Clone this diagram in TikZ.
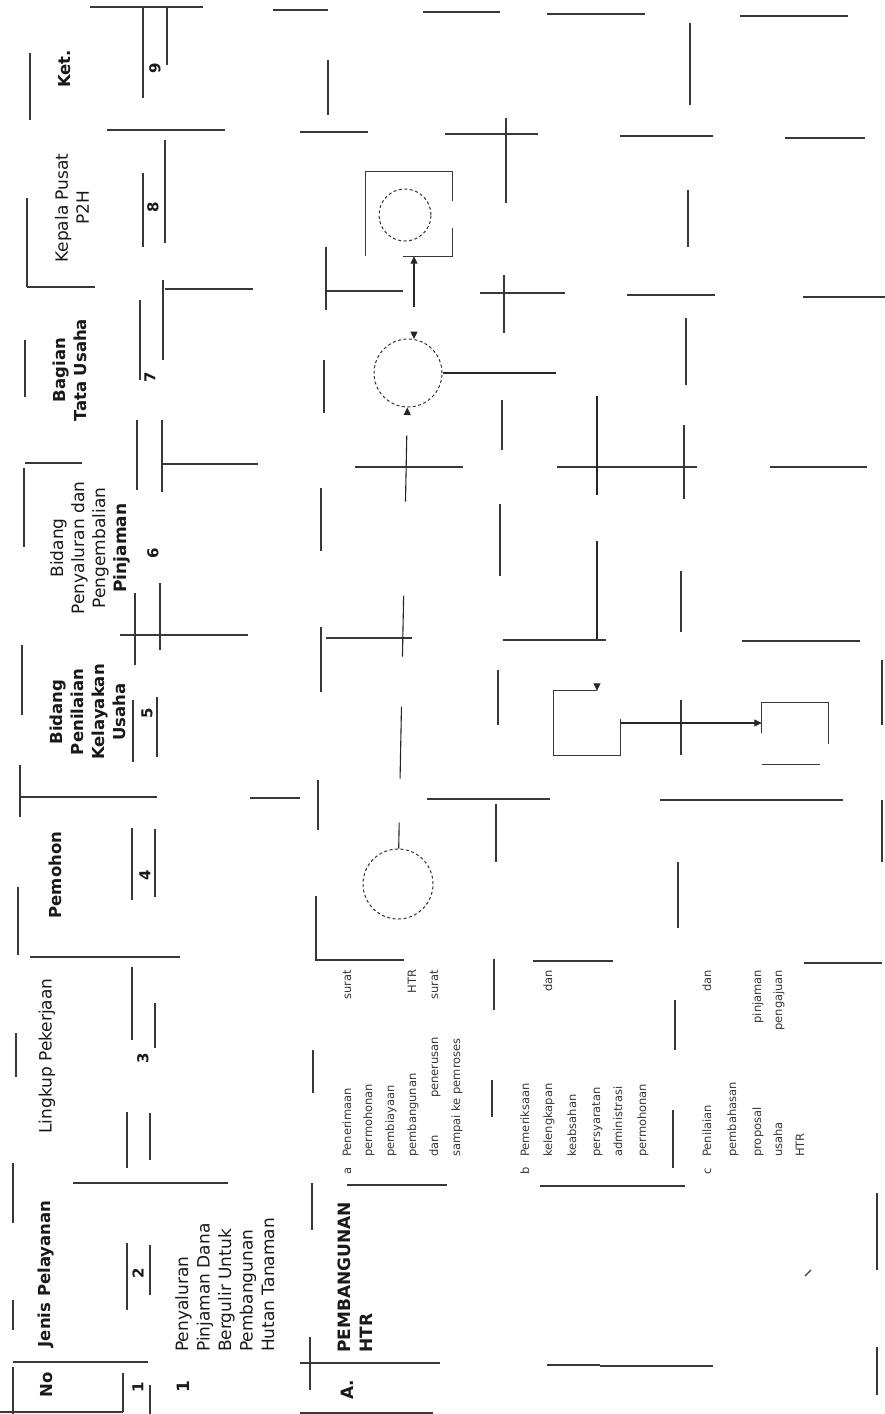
\documentclass[tikz,border=0pt]{standalone}
\usepackage{fontspec}
\setmainfont{DejaVu Sans}
\usetikzlibrary{arrows.meta,calc}
\begin{document}
\begin{tikzpicture}[x=1pt,y=-1pt,
  ln/.style={line width=1.1pt, draw=black!78},
  circ/.style={circle, draw=black!80, line width=1pt, dash pattern=on 3pt off 2.5pt, inner sep=0pt},
  boxshape/.style={rectangle, inner sep=0pt},
  conn/.style={line width=1.1pt, draw=black!85, -{Triangle[length=7.5pt,width=7pt]}},
  hd/.style={rotate=90, inner sep=0pt, font=\fontsize{16.5}{21}\selectfont\bfseries, text=black!90},
  hdr/.style={rotate=90, inner sep=0pt, font=\fontsize{17}{21}\selectfont, text=black!90},
  num/.style={rotate=90, inner sep=0pt, font=\fontsize{15}{18}\selectfont\bfseries, text=black!90},
  big/.style={rotate=90, inner sep=0pt, font=\fontsize{17}{21.5}\selectfont, align=left, text=black!90},
  bigb/.style={rotate=90, inner sep=0pt, font=\fontsize{17}{22}\selectfont\bfseries, align=left, text=black!90},
  body/.style={rotate=90, inner sep=0pt, anchor=base west, font=\fontsize{11.5}{13}\selectfont, text=black!78},
]
\useasboundingbox (0,0) rectangle (885,1414);
\fill[white] (0,0) rectangle (885,1414);

% ---- broken table rules (horizontal fragments) ----
\foreach \y/\a/\b in {7/90/203, 10/273/328, 12/423/500, 14/547/645, 16/740/848,
  130/107/225, 132/300/368, 134/445/538, 136/620/713, 138/785/865,
  287/27/95, 289/165/253, 291/326/403, 293/480/565, 295/627/715, 297/803/885,
  463/25/82, 464/162/258, 467/355/463, 467/557/697, 467/770/867,
  635/120/248, 638/326/412, 640/503/606, 641/742/860,
  797/20/157, 798/250/300, 799/427/550, 800/660/843,
  957/30/180, 960/315/404, 961/533/613, 963/804/882,
  1183/73/228, 1185/347/447, 1186/540/685,
  1362/13/148, 1363/300/440, 1365/547/600, 1366/600/713,
  1412/0/123, 1413/300/433}
  \draw[ln] (\a,\y) -- (\b,\y);

% ---- broken table rules (vertical fragments) ----
\foreach \x/\a/\b in {30/53/120, 27/198/287, 25/340/397, 24/468/547, 22/645/715,
  20/765/817, 18/887/955, 16/1033/1077, 13/1163/1223, 13/1300/1330, 13/1367/1414,
  143/7/98, 143/173/247, 140/300/380, 137/420/490, 135/593/665, 133/700/762,
  132/828/900, 132/967/1040, 127/1112/1168, 127/1243/1310, 123/1373/1412,
  167/7/65, 165/140/243, 163/280/360, 162/420/492, 160/583/650, 157/697/757,
  155/829/897, 155/1003/1048, 150/1113/1160, 150/1245/1295, 150/1385/1414,
  328/60/115, 326/247/310, 324/360/413, 321/488/551, 321/627/692, 318/780/830,
  316/896/960, 313/1050/1093, 312/1183/1230, 310/1337/1390,
  506/118/203, 504/275/333, 502/400/450, 500/504/576, 498/670/725, 496/804/862,
  494/959/1010, 492/1080/1117,
  690/23/105, 688/190/247, 686/318/385, 684/425/499, 681/571/632, 681/700/755,
  678/862/928, 675/1000/1050, 673/1110/1168,
  882/660/725, 882/800/862, 877/1193/1270, 877/1347/1395}
  \draw[ln] (\x,\a) -- (\x,\b);

\draw[ln] (805,1276) -- (811,1270);

% ---- header ----
\node[hd] (hno) at (47,1385) {No};
\node[hd] (hjenis) at (46,1274) {Jenis Pelayanan};
\node[hdr] (hlingkup) at (47,1056) {Lingkup Pekerjaan};
\node[hd] (hpem) at (55,875) {Pemohon};
\node[hd, align=center] (hpen) at (88,712) {Bidang\\Penilaian\\Kelayakan\\Usaha};
\node[hdr, align=center] (hsal) at (90,548) {Bidang\\Penyaluran dan\\Pengembalian\\\textbf{Pinjaman}};
\node[hd, align=center] (htu) at (70,370) {Bagian\\Tata Usaha};
\node[hdr, align=center] (hkp) at (72,208) {Kepala Pusat\\P2H};
\node[hd] (hket) at (65,69) {Ket.};

% ---- column numbers ----
\node[num] (n1) at (138,1387) {1};
\node[num] (n2) at (138,1273) {2};
\node[num] (n3) at (143,1058) {3};
\node[num] (n4) at (145,875) {4};
\node[num] (n5) at (147,713) {5};
\node[num] (n6) at (153,553) {6};
\node[num] (n7) at (150,377) {7};
\node[num] (n8) at (153,207) {8};
\node[num] (n9) at (155,68) {9};

% ---- row 1 ----
\node[num, font=\fontsize{17}{20}\selectfont\bfseries] (r1) at (183,1387) {1};
\node[big, anchor=north west] (jenis1) at (175,1352) {Penyaluran\\Pinjaman Dana\\Bergulir Untuk\\Pembangunan\\Hutan Tanaman};

% ---- row A ----
\node[bigb] (rA) at (347,1390) {A.};
\node[bigb, anchor=north west] (jenisA) at (338,1353) {PEMBANGUNAN\\HTR};

% ---- lingkup a ----
\node[body] (ka) at (351,1175) {a};
\node[body] (a1) at (351,1157) {\makebox[187pt]{Penerimaan\hfill surat}};
\node[body] (a2) at (372,1157) {permohonan};
\node[body] (a3) at (394,1157) {pembiayaan};
\node[body] (a4) at (416,1157) {\makebox[187pt]{pembangunan\hfill HTR}};
\node[body] (a5) at (438,1157) {\makebox[187pt]{dan\hfill penerusan\hfill surat}};
\node[body] (a6) at (460,1157) {sampai ke pemroses};

% ---- lingkup b ----
\node[body] (kb) at (529,1175) {b};
\node[body] (b1) at (529,1157) {Pemeriksaan};
\node[body] (b2) at (552,1157) {\makebox[187pt]{kelengkapan\hfill dan}};
\node[body] (b3) at (576,1157) {keabsahan};
\node[body] (b4) at (600,1157) {persyaratan};
\node[body] (b5) at (622,1157) {administrasi};
\node[body] (b6) at (646,1157) {permohonan};

% ---- lingkup c ----
\node[body] (kc) at (711,1175) {c};
\node[body] (c1) at (711,1157) {\makebox[187pt]{Penilaian\hfill dan}};
\node[body] (c2) at (736,1157) {pembahasan};
\node[body] (c3) at (761,1157) {\makebox[187pt]{proposal\hfill pinjaman}};
\node[body] (c4) at (782,1157) {\makebox[187pt]{usaha\hfill pengajuan}};
\node[body] (c5) at (804,1157) {HTR};

% ---- flow symbols ----
\node[circ, minimum size=70pt] (pem) at (398,884) {};
\node[circ, minimum size=68pt] (tu) at (408,373) {};
\node[boxshape, minimum width=86pt, minimum height=84pt] (kp) at (409,214) {};
\node[circ, minimum size=52pt] (kpc) at (405,215) {};
\node[boxshape, minimum width=66pt, minimum height=64pt] (lb) at (587,723) {};
\node[boxshape, minimum width=66pt, minimum height=61pt] (rb) at (795,733.5) {};

\draw[ln, dash pattern=on 77pt off 27pt on 200pt]
  ([xshift=-6pt]kp.south) -- (kp.south east) -- (kp.north east) -- (kp.north west) -- (kp.south west);
\draw[ln, dash pattern=on 210pt off 60pt]
  ([xshift=10pt]lb.north) -- (lb.north west) -- (lb.south west) -- (lb.south east) -- (lb.north east) -- cycle;
\draw[ln, dash pattern=on 0pt off 31pt on 138pt off 28pt on 57pt]
  (rb.south west) -- (rb.north west) -- (rb.north east) -- (rb.south east) -- cycle;

% ---- connectors ----
\draw[conn, dash pattern=on 26pt off 44pt on 72pt off 50pt on 61pt off 94pt on 66pt off 30pt] (pem) -- (tu);
\draw[conn, {Triangle[length=7.5pt,width=7pt]}-{Triangle[length=7.5pt,width=7pt]}, dash pattern=on 0pt off 25pt on 60pt]
  (tu.80) -- (tu.80 |- kp.south);
\draw[conn, dash pattern=on 113pt off 64pt on 99pt off 46pt on 98pt off 60pt]
  (tu.east) -| ([xshift=10pt]lb.north);
\draw[conn] (lb.east) -- (lb.east -| rb.west);
\end{tikzpicture}
\end{document}
